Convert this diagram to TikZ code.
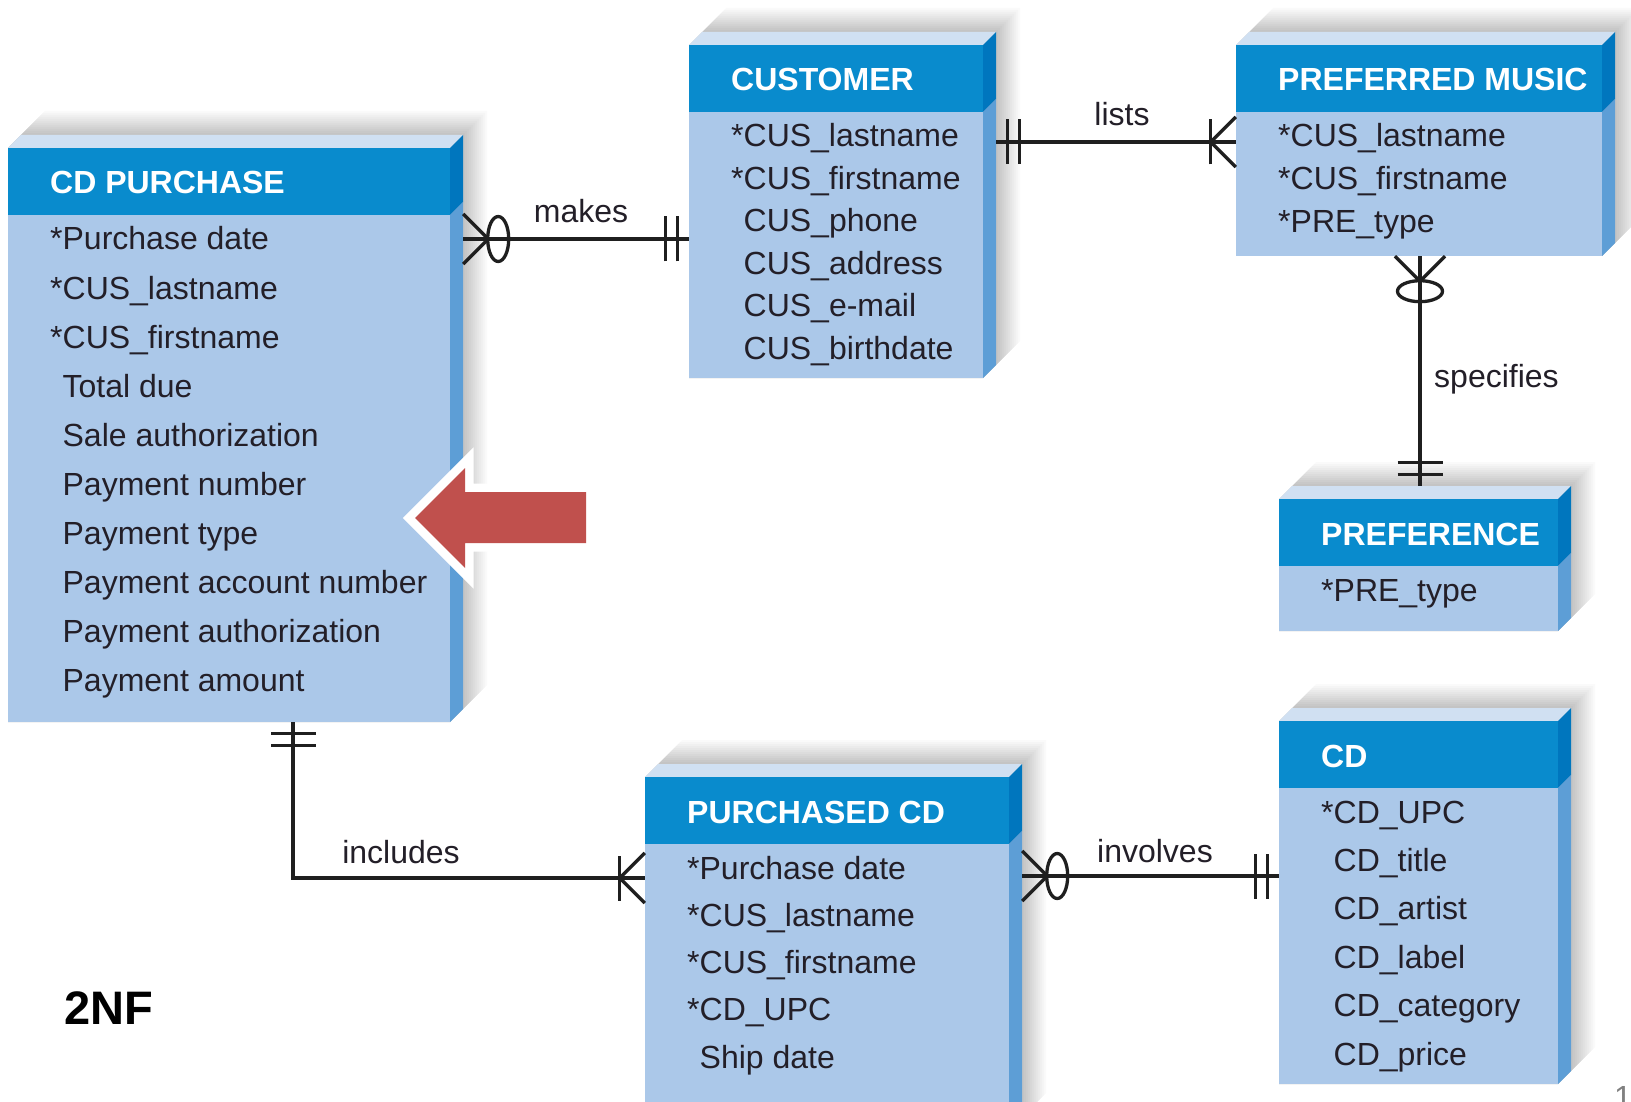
\documentclass[tikz,border=0pt]{standalone}
\usepackage{fontspec}
\setmainfont{Liberation Sans}
\usetikzlibrary{positioning,calc,fit}
\definecolor{hdrblue}{RGB}{9,139,205}
\definecolor{bodyblue}{RGB}{171,200,233}
\definecolor{sidehdr}{RGB}{0,118,190}
\definecolor{sidebody}{RGB}{93,158,214}
\definecolor{topface}{RGB}{208,224,242}
\definecolor{txtdark}{RGB}{35,31,40}
\definecolor{arrowred}{RGB}{192,80,77}
\newcommand{\erfont}{\fontsize{32}{38}\selectfont}
\newcommand{\nokey}{\phantom{*}}

% entity box: name, left, top, right, bottom, title, row step, rows
\newcommand{\erentity}[8]{%
  \foreach \s in {15,17,...,37}
    \fill[black, opacity=.02] (#2,#3) -- ++(\s,-\s) -- ({#4+\s},{#3-\s})
      -- ({#4+\s},{#5-\s}) -- (#4,#5) -- (#2,#5) -- cycle;
  \fill[topface] (#2,#3) -- ++(13,-13) -- ({#4+13},{#3-13}) -- (#4,#3) -- cycle;
  \fill[sidehdr] (#4,#3) -- ++(13,-13) -- ++(0,67) -- (#4,{#3+67}) -- cycle;
  \fill[sidebody] (#4,{#3+67}) -- ++(13,-13) -- ({#4+13},{#5-13}) -- (#4,#5) -- cycle;
  \fill[hdrblue] (#2,#3) rectangle (#4,{#3+67});
  \fill[bodyblue] (#2,{#3+67}) rectangle (#4,#5);
  \coordinate (#1-nw) at (#2,{#3-13});
  \coordinate (#1-se) at ({#4+13},#5);
  \node[fit=(#1-nw)(#1-se), inner sep=0pt] (#1) {};
  \node[ttl] (#1-t) at ({#2+42},{#3+46}) {#6};
  \foreach \a [count=\i] in {#8}
    \node[attr] (#1-a\i) at ({#2+42},{#3+102+(\i-1)*#7}) {\a};
}

\begin{document}
\begin{tikzpicture}[x=1pt, y=-1pt,
  rel/.style={line width=3.3pt, draw=black!88},
  ttl/.style={anchor=base west, inner sep=0pt, text=white, font=\erfont\bfseries},
  attr/.style={anchor=base west, inner sep=0pt, text=txtdark, font=\erfont},
  lbl/.style={anchor=base, inner sep=0pt, text=txtdark, font=\erfont},
  zmany/.pic={\draw[rel] (0,-25) -- (25,0) -- (0,25);
    \draw[rel] (35,0) ellipse [x radius=10.5pt, y radius=22.5pt];},
  onlyone/.pic={\draw[rel] (11,-22.5) -- (11,22.5);
    \draw[rel] (23,-22.5) -- (23,22.5);},
  onemany/.pic={\draw[rel] (0,-25) -- (25,0) -- (0,25);
    \draw[rel] (25,-22.5) -- (25,22.5);}]
\useasboundingbox (0,0) rectangle (1631,1102);
\clip (0,0) rectangle (1631,1102);
\fill[white] (0,0) rectangle (1631,1102);

\erentity{cdp}{8}{148}{450}{722}{CD PURCHASE}{49}{*Purchase date,*CUS\_lastname,*CUS\_firstname,
  \nokey Total due,\nokey Sale authorization,\nokey Payment number,\nokey Payment type,
  \nokey Payment account number,\nokey Payment authorization,\nokey Payment amount}
\erentity{cust}{689}{45}{983}{378}{CUSTOMER}{42.4}{*CUS\_lastname,*CUS\_firstname,
  \nokey CUS\_phone,\nokey CUS\_address,\nokey CUS\_e-mail,\nokey CUS\_birthdate}
\erentity{pm}{1236}{45}{1602}{256}{PREFERRED MUSIC}{43}{*CUS\_lastname,*CUS\_firstname,*PRE\_type}
\erentity{pref}{1279}{499}{1558}{631}{PREFERENCE}{43}{*PRE\_type}
\erentity{cd}{1279}{721}{1558}{1084}{CD}{48.4}{*CD\_UPC,\nokey CD\_title,\nokey CD\_artist,
  \nokey CD\_label,\nokey CD\_category,\nokey CD\_price}
\erentity{pcd}{645}{777}{1009}{1130}{PURCHASED CD}{47.3}{*Purchase date,*CUS\_lastname,
  *CUS\_firstname,*CD\_UPC,\nokey Ship date}

% relationships
\draw[rel] (cdp.east |- 0,239) pic{zmany} -- (cust.west |- 0,239) pic[rotate=180]{onlyone};
\draw[rel] (cust.east |- 0,142) pic{onlyone} -- (pm.west |- 0,142) pic[rotate=180]{onemany};
\draw[rel] (1420,0 |- pm.south) pic[rotate=-90]{zmany} -- (1420,0 |- pref.north) pic[rotate=90]{onlyone};
\draw[rel] (293,0 |- cdp.south) pic[rotate=-90]{onlyone} |- (pcd.west |- 0,878) pic[rotate=180]{onemany};
\draw[rel] (pcd.east |- 0,876) pic{zmany} -- (cd.west |- 0,876) pic[rotate=180]{onlyone};

\node[lbl] (lmakes) at (581,223) {makes};
\node[lbl] (llists) at (1122,126) {lists};
\node[lbl, anchor=base west] (lspec) at (1434,387) {specifies};
\node[lbl] (lincl) at (401,863) {includes};
\node[lbl] (linv) at (1155,862) {involves};

% highlight arrow
\fill[arrowred, preaction={draw=white, line width=17pt, line join=miter}]
  (415,518) -- (465,468) -- (465,492) -- (586,492) -- (586,543) -- (465,543) -- (465,568) -- cycle;

\node[anchor=base west, inner sep=0pt, font=\fontsize{47}{56}\selectfont\bfseries] (nf) at (64,1024) {2NF};
\node[anchor=base west, inner sep=0pt, text=gray, font=\erfont] (pg) at (1614,1108) {1};
\end{tikzpicture}
\end{document}
